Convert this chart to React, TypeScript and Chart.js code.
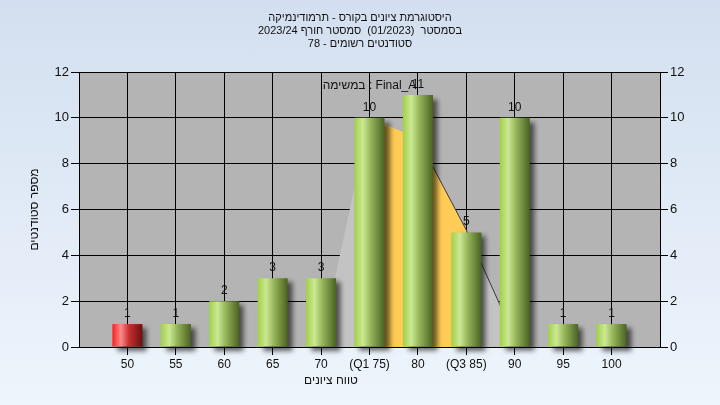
import React, { useEffect, useRef } from 'react';
import { Chart, registerables } from 'chart.js';

Chart.register(...registerables);

// ---- data ----
const categories = ['50', '55', '60', '65', '70', '(Q1 75)', '80', '(Q3 85)', '90', '95', '100'];
const counts = [1, 1, 2, 3, 3, 10, 11, 5, 10, 1, 1];
const barKinds = ['fail', 'pass', 'pass', 'pass', 'pass', 'pass', 'pass', 'pass', 'pass', 'pass', 'pass'];
const curveAll = [null, null, null, null, 0.2, 10.0, 9.1, 5.1, 0.4, null, null];
const curveIQR = [null, null, null, null, null, 10.0, 9.1, 5.1, null, null, null];
const curveEdge = [null, null, null, null, null, null, 9.1, 5.1, 0.4, null, null];
const yMin = 0;
const yMax = 12;
const yStep = 2;
const titleLines = [
  'היסטוגרמת ציונים בקורס - תרמודינמיקה',
  'בסמסטר  (01/2023)  סמסטר חורף 2023/24',
  'סטודנטים רשומים - 78',
];
const legendText = 'במשימה : Final_A';
const xTitle = 'טווח ציונים';
const yTitle = 'מספר סטודנטים';

const FONT = '"Liberation Sans", Arial, sans-serif';
const pad = (a: any[]) => [null, ...a, null];
const labels = ['', ...categories, ''];
const lastIdx = labels.length - 1;

const barStyle: any = {
  id: 'barStyle',
  beforeDatasetDraw(chart: any, args: any) {
    if (args.meta.type !== 'bar') return;
    const ctx = chart.ctx;
    args.meta.data.forEach((el: any, i: number) => {
      if (el.skip || el.width == null || isNaN(el.x)) return;
      const kind = barKinds[i - 1];
      const g = ctx.createLinearGradient(el.x - el.width / 2, 0, el.x + el.width / 2, 0);
      if (kind === 'fail') {
        g.addColorStop(0, '#ff1c1c');
        g.addColorStop(0.28, '#ff8a8a');
        g.addColorStop(0.55, '#c83030');
        g.addColorStop(1, '#6a1010');
      } else {
        g.addColorStop(0, '#a2d048');
        g.addColorStop(0.28, '#cbe893');
        g.addColorStop(0.55, '#95b45a');
        g.addColorStop(1, '#4a6220');
      }
      el.options = { ...el.options, backgroundColor: g };
    });
    ctx.save();
    ctx.shadowColor = 'rgba(0,0,0,0.6)';
    ctx.shadowBlur = 5;
    ctx.shadowOffsetX = 5;
    ctx.shadowOffsetY = 4;
  },
  afterDatasetDraw(chart: any, args: any) {
    if (args.meta.type !== 'bar') return;
    chart.ctx.restore();
  },
  afterDatasetsDraw(chart: any) {
    const ctx = chart.ctx;
    const meta = chart.getDatasetMeta(0);
    ctx.save();
    ctx.font = `12px ${FONT}`;
    ctx.fillStyle = '#111';
    ctx.textAlign = 'center';
    ctx.textBaseline = 'alphabetic';
    meta.data.forEach((el: any, i: number) => {
      const v = chart.data.datasets[0].data[i];
      if (v == null) return;
      ctx.fillText(String(v), el.x, el.y - 7);
    });
    ctx.restore();
  },
  afterDraw(chart: any) {
    const ctx = chart.ctx;
    const ca = chart.chartArea;
    ctx.save();
    ctx.fillStyle = '#111';
    ctx.textAlign = 'center';
    ctx.textBaseline = 'middle';
    ctx.font = `11px ${FONT}`;
    titleLines.forEach((t, i) => ctx.fillText(t, 360, 18 + i * 13));
    ctx.font = `12px ${FONT}`;
    ctx.fillText(legendText, (ca.left + ca.right) / 2, 86);
    ctx.fillText(xTitle, 331, 381);
    ctx.translate(35, (ca.top + ca.bottom) / 2);
    ctx.rotate(-Math.PI / 2);
    ctx.fillText(yTitle, 0, 0);
    ctx.restore();
  },
};

export default function App() {
  const ref = useRef<HTMLCanvasElement>(null);
  useEffect(() => {
    document.body.style.margin = '0';
    const edgeHide = (c: any) => (c.index === 0 || c.index === lastIdx ? 'rgba(0,0,0,0)' : '#000');
    const chart = new Chart(ref.current!, {
      type: 'bar',
      data: {
        labels,
        datasets: [
          {
            type: 'bar',
            data: pad(counts),
            backgroundColor: '#9c4',
            borderWidth: 0,
            barPercentage: 0.62,
            categoryPercentage: 1,
            order: 0,
            clip: false,
          } as any,
          {
            type: 'line',
            data: pad(curveEdge),
            borderColor: '#3a3a3a',
            borderWidth: 1,
            pointRadius: 0,
            fill: false,
            tension: 0,
            order: 1,
          },
          {
            type: 'line',
            data: pad(curveIQR),
            borderWidth: 0,
            borderColor: 'rgba(0,0,0,0)',
            backgroundColor: '#ffcc55',
            pointRadius: 0,
            fill: 'origin',
            tension: 0,
            order: 2,
          },
          {
            type: 'line',
            data: pad(curveAll),
            borderWidth: 0,
            borderColor: 'rgba(0,0,0,0)',
            backgroundColor: '#c3c3c3',
            pointRadius: 0,
            fill: 'origin',
            tension: 0,
            order: 3,
          },
        ],
      },
      options: {
        animation: false,
        responsive: false,
        maintainAspectRatio: false,
        layout: { padding: { top: 72, left: 0, right: 0, bottom: 0 } },
        plugins: { legend: { display: false }, tooltip: { enabled: false }, title: { display: false } },
        scales: {
          x: {
            offset: false,
            grid: { offset: false, color: edgeHide, tickColor: edgeHide, lineWidth: 1, tickLength: 8 },
            border: { display: true, color: '#000' },
            ticks: { color: '#111', font: { family: FONT, size: 12 }, padding: 2, maxRotation: 0, autoSkip: false },
            afterFit: (s: any) => { s.height = 58; },
          },
          y: {
            position: 'left',
            min: yMin,
            max: yMax,
            ticks: { stepSize: yStep, color: '#111', font: { family: FONT, size: 13 }, padding: 2 },
            grid: { color: '#000', tickColor: '#000', lineWidth: 1, tickLength: 8 },
            border: { display: true, color: '#000' },
            afterFit: (s: any) => { s.width = 79; },
          },
          y2: {
            position: 'right',
            min: yMin,
            max: yMax,
            ticks: { stepSize: yStep, color: '#111', font: { family: FONT, size: 13 }, padding: 2 },
            grid: { drawOnChartArea: false, tickColor: '#000', tickLength: 8 },
            border: { display: true, color: '#000' },
            afterFit: (s: any) => { s.width = 60; },
          },
        },
      },
      plugins: [
        {
          id: 'plotBg',
          beforeDraw(c: any) {
            const a = c.chartArea;
            c.ctx.save();
            c.ctx.fillStyle = '#b4b4b4';
            c.ctx.fillRect(a.left, a.top, a.right - a.left, a.bottom - a.top);
            c.ctx.restore();
          },
        },
        barStyle,
      ],
    });
    return () => chart.destroy();
  }, []);
  return (
    <div style={{ width: 720, height: 405, background: 'linear-gradient(to bottom, #d3dff0, #eef5fc)' }}>
      <canvas ref={ref} width={720} height={405} style={{ display: 'block' }} />
    </div>
  );
}
